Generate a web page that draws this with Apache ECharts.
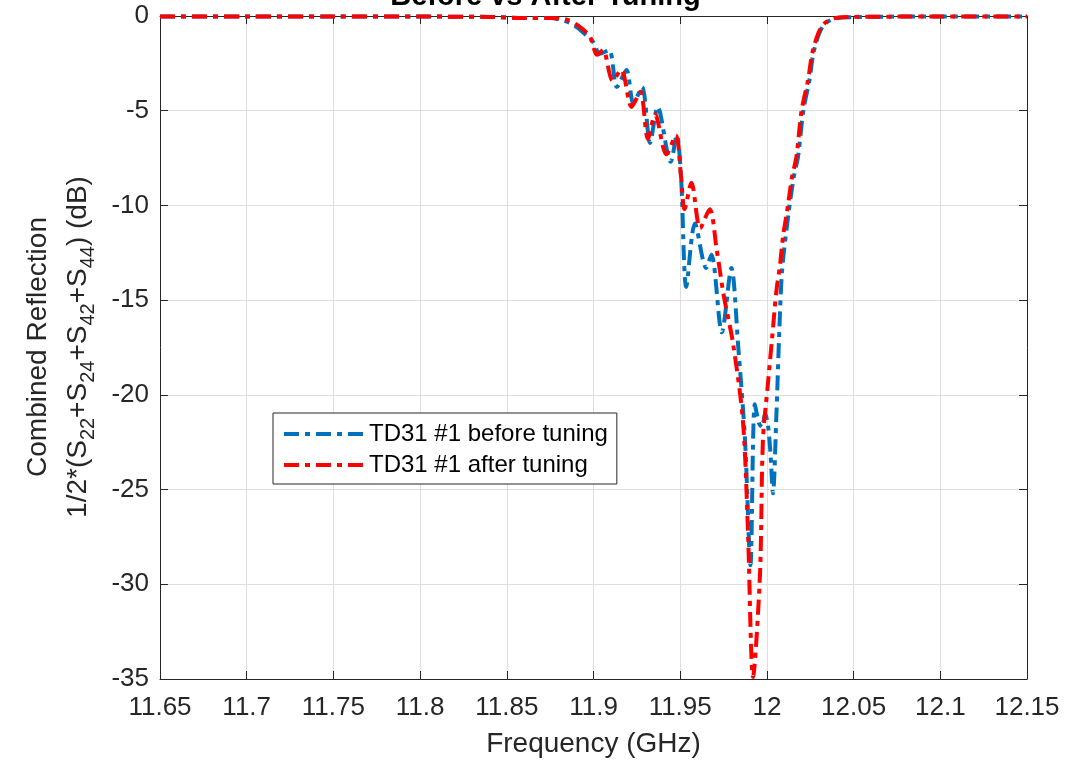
<!DOCTYPE html>
<html>
<head>
<meta charset="utf-8">
<script src="https://cdn.jsdelivr.net/npm/echarts@6/dist/echarts.min.js"></script>
<style>
  html,body{margin:0;padding:0;background:#fff}
  #main{width:1091px;height:764px}
</style>
</head>
<body>
<div id="main"></div>
<script>
// before tuning (blue)
var freqBefore = [11.65, 11.70, 11.75, 11.80, 11.84, 11.86, 11.875, 11.883, 11.889, 11.895,
  11.900, 11.9035, 11.909, 11.9135, 11.919, 11.923, 11.928, 11.9326, 11.937, 11.9445,
  11.948, 11.9505, 11.9535, 11.9585, 11.965, 11.968, 11.974, 11.9795, 11.9835, 11.9874,
  11.9905, 11.993, 11.9955, 11.9972, 11.999, 12.0006, 12.002, 12.0035, 12.0055, 12.0072,
  12.0088, 12.0125, 12.0155, 12.018, 12.021, 12.0245, 12.0272, 12.0325, 12.040, 12.05,
  12.08, 12.10, 12.15]
var lossBefore = [-0.03, -0.02, -0.03, -0.03, -0.05, -0.1, -0.1, -0.25, -0.5, -0.95,
  -1.4, -2.0, -1.8, -3.75, -2.85, -4.6, -3.75, -6.7, -4.8, -7.7,
  -6.3, -8.5, -14.3, -10.95, -13.3, -12.6, -16.7, -13.3, -17.5, -22.4,
  -29.0, -20.5, -21.5, -21.7, -21.0, -21.6, -23.0, -25.2, -21.0, -16.5,
  -13.4, -10.4, -8.5, -7.4, -5.0, -3.4, -1.8, -0.5, -0.12, -0.06,
  -0.03, -0.03, -0.02]

// after tuning (red)
var freqAfter = [11.65, 11.70, 11.75, 11.80, 11.84, 11.86, 11.875, 11.8847, 11.891, 11.898,
  11.902, 11.9055, 11.911, 11.916, 11.922, 11.927, 11.9314, 11.9355, 11.942, 11.9475,
  11.9505, 11.9525, 11.9565, 11.9615, 11.967, 11.971, 11.975, 11.9805, 11.9862, 11.989,
  11.992, 11.996, 11.9977, 12.0005, 12.003, 12.0055, 12.0075, 12.0095, 12.0115, 12.0145,
  12.017, 12.020, 12.0237, 12.0266, 12.032, 12.040, 12.05, 12.08, 12.10, 12.15]
var lossAfter = [-0.03, -0.02, -0.03, -0.03, -0.05, -0.1, -0.1, -0.2, -0.5, -1.1,
  -2.05, -1.8, -3.4, -2.85, -4.8, -4.0, -6.5, -5.2, -7.3, -6.3,
  -8.5, -10.2, -8.8, -11.2, -10.2, -12.3, -14.7, -17.3, -21.4, -27.0,
  -34.9, -29.5, -22.4, -19.5, -17.0, -14.5, -13.2, -11.5, -10.4, -8.5,
  -7.45, -5.0, -3.4, -1.8, -0.5, -0.1, -0.05, -0.03, -0.02, -0.02]

var xTicks = [11.65, 12.15, 0.05]
var yTicks = [-35, 0, 5]

var font = 'Liberation Sans, Arial, Helvetica, sans-serif'
var ink = '#262626'
var dash = [15, 6, 5, 6]

var myChart = echarts.init(document.getElementById('main'))

var pairs = function(xs, ys){ return xs.map(function(x, i){ return [x, ys[i]] }) }

var axisCommon = {
  axisLine: { show: true, lineStyle: { color: ink, width: 1 } },
  axisTick: { show: true, inside: true, length: 8, lineStyle: { color: ink } },
  splitLine: { show: false },
  axisLabel: { show: false }
}

myChart.setOption({
  animation: false,
  title: {
    text: 'Before vs After Tuning',
    left: 'center',
    top: -23,
    textStyle: { fontFamily: font, fontSize: 29, fontWeight: 'bold', color: '#000' }
  },
  grid: { left: 160, right: 64, top: 16, bottom: 85 },
  legend: {
    orient: 'vertical',
    left: 273,
    top: 413,
    padding: [9, 9, 7, 9],
    itemGap: 7,
    itemWidth: 80,
    itemHeight: 24,
    backgroundColor: '#fff',
    borderColor: ink,
    borderWidth: 1,
    borderRadius: 0,
    itemStyle: { opacity: 0 },
    lineStyle: { width: 4, type: dash },
    textStyle: { fontFamily: font, fontSize: 24, color: '#000' },
    data: ['TD31 #1 before tuning', 'TD31 #1 after tuning']
  },
  xAxis: [{
    type: 'value',
    min: xTicks[0], max: xTicks[1], interval: xTicks[2],
    name: 'Frequency (GHz)',
    nameLocation: 'middle',
    nameGap: 51,
    nameTextStyle: { fontFamily: font, fontSize: 28, color: ink },
    axisLine: { show: true, onZero: false, lineStyle: { color: ink, width: 1 } },
    axisTick: { show: true, inside: true, length: 8, lineStyle: { color: ink } },
    splitLine: { show: true, lineStyle: { color: '#dfdfdf', width: 1 } },
    axisLabel: {
      margin: 16,
      fontFamily: font, fontSize: 26, color: ink,
      formatter: function(v){ return String(parseFloat(v.toFixed(2))) }
    }
  }, Object.assign({
    type: 'value', position: 'top',
    min: xTicks[0], max: xTicks[1], interval: xTicks[2]
  }, axisCommon)],
  yAxis: [{
    type: 'value',
    min: yTicks[0], max: yTicks[1], interval: yTicks[2],
    axisLine: { show: true, onZero: false, lineStyle: { color: ink, width: 1 } },
    axisTick: { show: true, inside: true, length: 8, lineStyle: { color: ink } },
    splitLine: { show: true, lineStyle: { color: '#dfdfdf', width: 1 } },
    axisLabel: { margin: 11, fontFamily: font, fontSize: 26, color: ink }
  }, Object.assign({
    type: 'value', position: 'right',
    min: yTicks[0], max: yTicks[1], interval: yTicks[2]
  }, axisCommon)],
  graphic: [{
    type: 'text',
    x: 58, y: 347,
    rotation: Math.PI / 2,
    style: {
      text: '{n|Combined Reflection}\n{n|1/2*(S}{s|22}{n|+S}{s|24}{n|+S}{s|42}{n|+S}{s|44}{n|) (dB)}',
      align: 'center',
      verticalAlign: 'middle',
      fill: ink,
      rich: {
        n: { fontFamily: font, fontSize: 28, lineHeight: 40, fill: ink },
        s: { fontFamily: font, fontSize: 20, lineHeight: 18, verticalAlign: 'bottom', fill: ink }
      }
    }
  }],
  series: [{
    name: 'TD31 #1 before tuning',
    type: 'line',
    data: pairs(freqBefore, lossBefore),
    showSymbol: false,
    symbol: 'none',
    smooth: 0.3,
    clip: true,
    color: '#0072BD',
    lineStyle: { color: '#0072BD', width: 4, type: dash }
  }, {
    name: 'TD31 #1 after tuning',
    type: 'line',
    data: pairs(freqAfter, lossAfter),
    showSymbol: false,
    symbol: 'none',
    smooth: 0.3,
    clip: true,
    color: '#FF0000',
    lineStyle: { color: '#FF0000', width: 4, type: dash }
  }]
})
</script>
</body>
</html>
